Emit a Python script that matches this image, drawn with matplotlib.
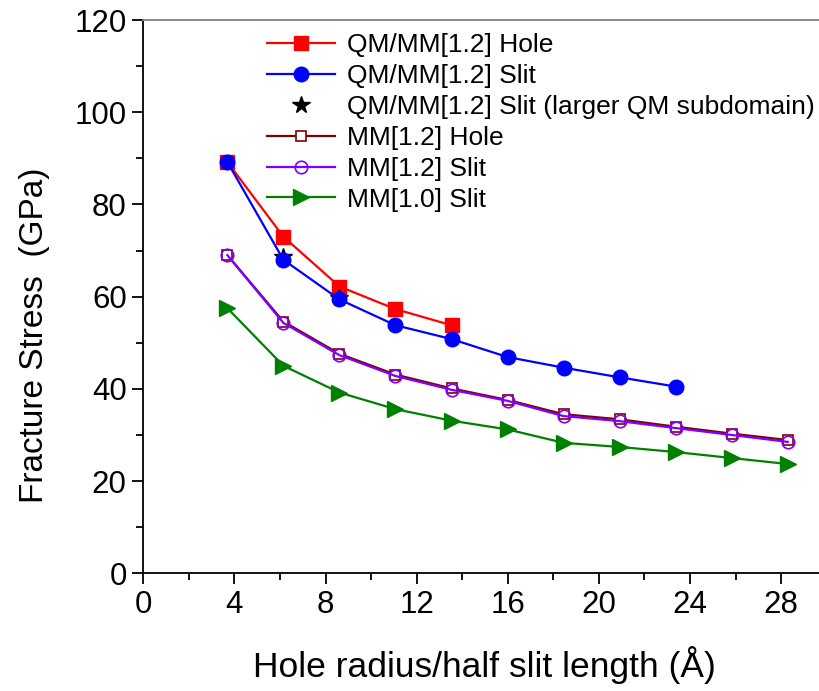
import matplotlib
matplotlib.use("Agg")
import matplotlib.pyplot as plt
from matplotlib.ticker import MultipleLocator

plt.rcParams['font.family'] = ['Liberation Sans', 'DejaVu Sans']

x_all = [3.69, 6.15, 8.61, 11.07, 13.53, 15.99, 18.45, 20.91, 23.37, 25.83, 28.29]

qmmm_hole_x = x_all[:5]
qmmm_hole_y = [89.2, 73.0, 62.2, 57.3, 53.8]

qmmm_slit_x = x_all[:9]
qmmm_slit_y = [89.2, 68.0, 59.4, 53.8, 50.8, 46.9, 44.6, 42.5, 40.5]

star_x = [6.15, 8.61]
star_y = [68.7, 59.8]

mm12_hole_x = x_all
mm12_hole_y = [69.0, 54.6, 47.6, 43.1, 40.1, 37.6, 34.5, 33.4, 31.8, 30.3, 28.9]

mm12_slit_x = x_all
mm12_slit_y = [69.0, 54.3, 47.3, 42.8, 39.8, 37.4, 34.1, 33.0, 31.5, 30.0, 28.5]

mm10_slit_x = x_all
mm10_slit_y = [57.5, 45.0, 39.2, 35.6, 33.1, 31.2, 28.3, 27.4, 26.3, 25.0, 23.7]

fig = plt.figure(figsize=(8.2, 6.91), dpi=100)
ax = fig.add_axes([143.3/820, 1-573.3/691, 1-143.3/820, (573.3-20)/691])

lw = 1.6
ax.plot(qmmm_hole_x, qmmm_hole_y, '-s', color='#FF0000', lw=lw, ms=9.5,
        label='QM/MM[1.2] Hole', zorder=3)
ax.plot(star_x, star_y, '*', color='black', ms=13, ls='none',
        label='QM/MM[1.2] Slit (larger QM subdomain)', zorder=3.5)
ax.plot(qmmm_slit_x, qmmm_slit_y, '-o', color='#0000FF', lw=lw, ms=10.5,
        label='QM/MM[1.2] Slit', zorder=4)
ax.plot(mm12_hole_x, mm12_hole_y, '-s', color='#800000', mfc='white', mec='#800000',
        mew=1.2, lw=lw, ms=7.5, label='MM[1.2] Hole', zorder=3)
ax.plot(mm12_slit_x, mm12_slit_y, '-o', color='#8000FF', mfc='none', mec='#8000FF',
        mew=1.2, lw=lw, ms=9, label='MM[1.2] Slit', zorder=3.2)
ax.plot(mm10_slit_x, mm10_slit_y, '->', color='#008000', lw=lw, ms=11,
        label='MM[1.0] Slit', zorder=3)

ax.set_xlim(0, (820-143.3)/22.78)
ax.set_ylim(0, 120)
ax.xaxis.set_major_locator(MultipleLocator(4))
ax.xaxis.set_minor_locator(MultipleLocator(2))
ax.yaxis.set_major_locator(MultipleLocator(20))
ax.yaxis.set_minor_locator(MultipleLocator(10))
ax.tick_params(which='major', direction='out', length=8, width=1.3, labelsize=22.5, pad=4)
ax.tick_params(which='minor', direction='out', length=5, width=1.3)
ax.tick_params(top=False, right=False)

for s in ['left', 'bottom']:
    ax.spines[s].set_linewidth(1.3)
    ax.spines[s].set_color('black')
ax.spines['top'].set_color('#808080')
ax.spines['top'].set_linewidth(1.3)
ax.spines['right'].set_visible(False)

ax.set_xlabel('Hole radius/half slit length (Å)', fontsize=25.5)
ax.set_ylabel('Fracture Stress  (GPa)', fontsize=24)
ax.xaxis.set_label_coords((484-143.3)/676.7, -(665-573.3)/553.3)
ax.yaxis.set_label_coords(-(143.3-35)/676.7, (573.3-335)/553.3)
ax.xaxis.label.set_va('center')
ax.yaxis.label.set_va('center')

handles, labels = ax.get_legend_handles_labels()
order = [0, 2, 1, 3, 4, 5]
leg = ax.legend([handles[i] for i in order], [labels[i] for i in order],
                loc='upper left', bbox_to_anchor=(0.167, 0.995), frameon=False,
                fontsize=19, handlelength=2.6, handletextpad=0.45,
                labelspacing=0.26, borderaxespad=0.0, numpoints=1)

fig.savefig('out.png', dpi=100)
